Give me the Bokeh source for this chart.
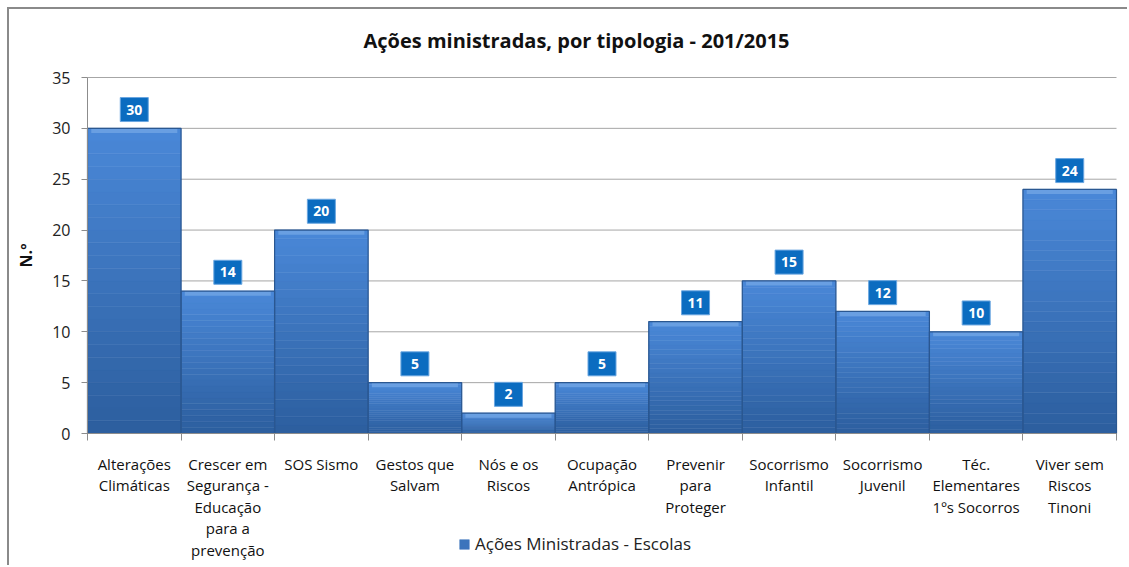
from bokeh.plotting import figure
from bokeh.models import (Range1d, FixedTicker, LinearAxis, Legend, LegendItem,
                          Label, ColumnDataSource)
from bokeh.core.properties import value
from bokeh.embed import file_html
from bokeh.resources import INLINE

categories = [
    "Alterações\nClimáticas",
    "Crescer em\nSegurança -\nEducação\npara a\nprevenção",
    "SOS Sismo",
    "Gestos que\nSalvam",
    "Nós e os\nRiscos",
    "Ocupação\nAntrópica",
    "Prevenir\npara\nProteger",
    "Socorrismo\nInfantil",
    "Socorrismo\nJuvenil",
    "Téc.\nElementares\n1ºs Socorros",
    "Viver sem\nRiscos\nTinoni",
]
values = [30, 14, 20, 5, 2, 5, 11, 15, 12, 10, 24]
series_name = "Ações Ministradas - Escolas"
title_text = "Ações ministradas, por tipologia - 201/2015"
y_ticks = [0, 5, 10, 15, 20, 25, 30, 35]
y_max = 35

FONT = "Open Sans"
n = len(categories)

# layout (page pixels)
CANVAS_X0, CANVAS_Y0 = 9, 9
W, H = 1129 - CANVAS_X0, 567 - CANVAS_Y0
PX_L, PX_R, PX_T, PX_B = 87, 1116, 77, 433
sx = (PX_R - PX_L) / n
sy = (PX_B - PX_T) / y_max
x_lo = -(PX_L - CANVAS_X0) / sx
x_hi = n + (1129 - PX_R) / sx
y_hi = y_max + (PX_T - CANVAS_Y0) / sy
y_lo = -(567 - PX_B) / sy

p = figure(width=W, height=H, output_backend="svg", toolbar_location=None,
           x_range=Range1d(x_lo, x_hi), y_range=Range1d(y_lo, y_hi),
           min_border=0, outline_line_color=None,
           x_axis_type=None, y_axis_type=None)
p.styles = {"margin-left": "7px", "margin-top": "7px",
            "border-left": "2px solid #8a8a8a", "border-top": "2px solid #8a8a8a"}
p.xgrid.visible = False
p.ygrid.visible = False

# grid lines
p.segment(x0=[0] * (len(y_ticks) - 1), x1=[n] * (len(y_ticks) - 1),
          y0=y_ticks[1:], y1=y_ticks[1:], line_color="#a6a6a6", line_width=1)

# y axis
yax = LinearAxis(ticker=FixedTicker(ticks=y_ticks, minor_ticks=[]))
yax.fixed_location = 0
yax.bounds = (0, y_max)
yax.major_tick_out = 6
yax.major_tick_in = 0
yax.axis_line_color = "#8c8c8c"
yax.major_tick_line_color = "#8c8c8c"
yax.major_label_text_font = FONT
yax.major_label_text_font_size = "16px"
yax.major_label_text_color = "#222222"
yax.major_label_standoff = 11
yax.axis_label = "N.º"
yax.axis_label_text_font = FONT
yax.axis_label_text_font_style = "bold"
yax.axis_label_text_font_size = "16px"
yax.axis_label_text_color = "#111111"
yax.axis_label_standoff = 12
p.add_layout(yax, "left")

# gradient bars (bands derived from values)
N = 24
c_bot = (0x2C, 0x5E, 0x9E)
c_top = (0x4A, 0x88, 0xD8)
band_renderers = []
for i in range(N):
    t = (i + 0.5) / N
    col = "#%02x%02x%02x" % tuple(int(round(a + (b - a) * t)) for a, b in zip(c_bot, c_top))
    src = ColumnDataSource(dict(
        left=[k for k in range(n)], right=[k + 1 for k in range(n)],
        bottom=[v * i / N for v in values], top=[v * (i + 1) / N for v in values]))
    r = p.quad(left="left", right="right", bottom="bottom", top="top", source=src,
               fill_color=col, line_color=col, line_width=0.5)
    band_renderers.append(r)

# bevel highlight at top of each bar
bev = ColumnDataSource(dict(left=[k + 0.04 for k in range(n)], right=[k + 0.96 for k in range(n)],
                            bottom=[v - 0.45 for v in values], top=values))
p.quad(left="left", right="right", bottom="bottom", top="top", source=bev,
       fill_color="#6ea3e4", line_color=None, fill_alpha=0.85)

# outline
out = ColumnDataSource(dict(left=list(range(n)), right=[k + 1 for k in range(n)],
                            bottom=[0] * n, top=values))
p.quad(left="left", right="right", bottom="bottom", top="top", source=out,
       fill_color=None, line_color="#2a5791", line_width=1.2)

# x axis: labels at centres, tick marks at boundaries (minor ticks)
centers = [i + 0.5 for i in range(n)]
bounds = list(range(n + 1))
xax = LinearAxis(ticker=FixedTicker(ticks=centers, minor_ticks=bounds))
xax.fixed_location = 0
xax.bounds = (0, n)
xax.major_label_overrides = {c: lab for c, lab in zip(centers, categories)}
xax.major_tick_out = 0
xax.major_tick_in = 0
xax.minor_tick_out = 7
xax.minor_tick_in = 0
xax.minor_tick_line_color = "#8c8c8c"
xax.axis_line_color = "#8c8c8c"
xax.major_label_text_font = FONT
xax.major_label_text_font_size = "15px"
xax.major_label_text_color = "#111111"
xax.major_label_text_line_height = 1.08
xax.major_label_standoff = 13
p.add_layout(xax, "below")

# data labels
lab_src = ColumnDataSource(dict(x=centers, y=[v + 1.85 for v in values],
                                txt=[str(v) for v in values]))
p.rect(x="x", y="y", width=28, height=24, width_units="screen", height_units="screen",
       source=lab_src, fill_color="#0b6cc0", line_color="#6aa6e0", line_width=1)
p.text(x="x", y="y", text="txt", source=lab_src, text_align="center",
       text_baseline="middle", text_color="white", text_font=value(FONT),
       text_font_style="bold", text_font_size="14px")

# title
p.add_layout(Label(x=(576 - PX_L) / sx, y=y_max + (PX_T - 40) / sy, text=title_text,
                   text_align="center", text_baseline="middle", text_font=FONT,
                   text_font_style="bold", text_font_size="20px", text_color="#111111"))

# legend
legend = Legend(items=[LegendItem(label=series_name, renderers=[band_renderers[N // 2]])],
                location=(458 - CANVAS_X0, 567 - 555), orientation="horizontal",
                border_line_color=None, background_fill_alpha=0,
                padding=0, margin=0, glyph_width=12, glyph_height=12,
                label_standoff=5, label_text_font=FONT, label_text_font_size="17px",
                label_text_color="#222222")
p.add_layout(legend, "center")

open("out.html", "w").write(file_html(p, INLINE))
